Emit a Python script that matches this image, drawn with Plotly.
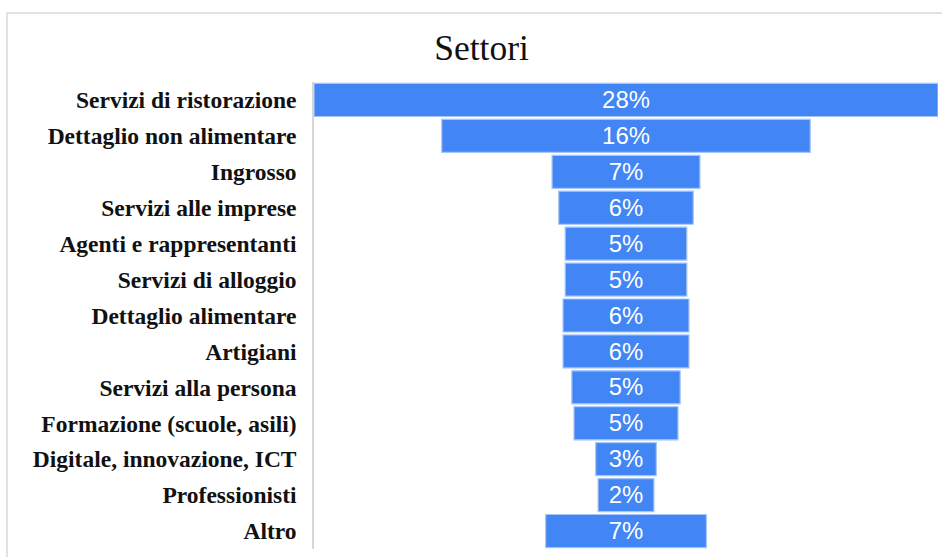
import plotly.graph_objects as go

categories = [
    "Servizi di ristorazione",
    "Dettaglio non alimentare",
    "Ingrosso",
    "Servizi alle imprese",
    "Agenti e rappresentanti",
    "Servizi di alloggio",
    "Dettaglio alimentare",
    "Artigiani",
    "Servizi alla persona",
    "Formazione (scuole, asili)",
    "Digitale, innovazione, ICT",
    "Professionisti",
    "Altro",
]
values = [27.6, 16.3, 6.54, 5.95, 5.38, 5.38, 5.57, 5.57, 4.79, 4.6, 2.68, 2.47, 7.11]
labels = ["28%", "16%", "7%", "6%", "5%", "5%", "6%", "6%", "5%", "5%", "3%", "2%", "7%"]

W, H = 942, 557
ML, MR, MT, MB = 314, 4, 82, 8
pw = W - ML - MR
ph = H - MT - MB

fig = go.Figure(go.Funnel(
    y=categories,
    x=values,
    text=labels,
    textinfo="text",
    textposition="inside",
    insidetextanchor="middle",
    textfont=dict(family="Liberation Sans, Arial", size=26.5, color="white"),
    marker=dict(color="#4285F4", line=dict(color="#a6c4f7", width=1.2)),
    connector=dict(visible=False),
    hoverinfo="y+text",
))

vmax = max(values)
fig.update_layout(
    width=W, height=H,
    margin=dict(l=ML, r=MR, t=MT, b=MB, autoexpand=False),
    paper_bgcolor="white",
    plot_bgcolor="white",
    showlegend=False,
    funnelgap=0.08,
    title=dict(
        text="Settori",
        x=481.5 / W, xref="container", xanchor="center",
        y=1 - 48 / H, yref="container", yanchor="middle",
        font=dict(family="Liberation Serif, Times New Roman, serif", size=35.5, color="#111111"),
    ),
    xaxis=dict(range=[-vmax / 2, vmax / 2], visible=False, fixedrange=True),
    yaxis=dict(
        showline=True, linecolor="#d6d6d6", linewidth=1.5,
        showgrid=False, zeroline=False,
        ticks="", ticklabelstandoff=11,
        tickfont=dict(family="Liberation Serif, Times New Roman, serif", size=23.5, color="#111111", weight="bold"),
    ),
    shapes=[dict(
        type="rect", xref="paper", yref="paper",
        x0=(7 - ML) / pw, x1=(W + 10 - ML) / pw,
        y0=(H - MB - (H + 10)) / ph, y1=(H - MB - 13) / ph,
        line=dict(color="#d9d9d9", width=1.5),
        fillcolor="rgba(0,0,0,0)", layer="below",
    )],
)

fig.write_html(
    "out.html",
    config={"displayModeBar": False},
    post_script="document.body.style.margin='0px';document.body.style.overflow='hidden';",
)
